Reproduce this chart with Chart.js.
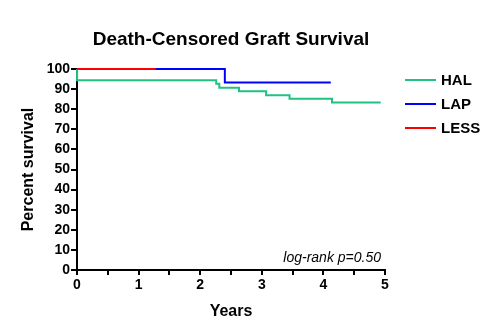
<!DOCTYPE html>
<html>
<head>
<meta charset="utf-8">
<script src="https://cdn.jsdelivr.net/npm/chart.js@4"></script>
<style>
  html, body { margin: 0; padding: 0; background: #fff; }
  #wrap { width: 500px; height: 336px; position: relative; }
</style>
</head>
<body>
<div id="wrap"><canvas id="km"></canvas></div>
<script>
// ── Kaplan-Meier data ───────────────────────────────────────────
const halTimes = [0, 0.001, 2.26, 2.31, 2.63, 3.07, 3.45, 4.14, 4.93];
const halSurv = [100, 94.4, 92.6, 90.7, 88.9, 87.0, 85.2, 83.3, 83.3];
const lapTimes = [0, 2.40, 4.12];
const lapSurv = [100, 93.3, 93.3];
const lessTimes = [0, 1.28];
const lessSurv = [100, 100];

const seriesNames = ["HAL", "LAP", "LESS"];
const seriesColors = ["#1fc283", "#0000ff", "#ff0000"];
const yTicks = [0, 10, 20, 30, 40, 50, 60, 70, 80, 90, 100];
const xTicks = [0, 1, 2, 3, 4, 5];

const FONT = "'Liberation Sans', Arial, sans-serif";
const pts = (t, s) => t.map((x, i) => ({ x, y: s[i] }));

// title, axis titles, legend, annotation
const decor = {
  id: "decor",
  afterDraw(chart) {
    const { ctx, chartArea: a } = chart;
    ctx.save();
    ctx.fillStyle = "#000";
    ctx.textAlign = "center";
    ctx.textBaseline = "alphabetic";
    ctx.font = "bold 19px " + FONT;
    ctx.fillText("Death-Censored Graft Survival", (a.left + a.right) / 2, 45);

    ctx.font = "bold 16px " + FONT;
    ctx.fillText("Years", (a.left + a.right) / 2, 316);
    ctx.save();
    ctx.translate(33, (a.top + a.bottom) / 2);
    ctx.rotate(-Math.PI / 2);
    ctx.fillText("Percent survival", 0, 0);
    ctx.restore();

    ctx.font = "italic 14px " + FONT;
    ctx.textAlign = "right";
    ctx.fillText("log-rank p=0.50", a.right - 4, 262);

    // legend
    ctx.textAlign = "left";
    ctx.textBaseline = "middle";
    ctx.font = "bold 15px " + FONT;
    seriesNames.forEach((n, i) => {
      const y = 80 + i * 24;
      ctx.strokeStyle = seriesColors[i];
      ctx.lineWidth = 2;
      ctx.beginPath();
      ctx.moveTo(405, y);
      ctx.lineTo(436, y);
      ctx.stroke();
      ctx.fillText(n, 441, y + 1);
    });
    ctx.restore();
  },
};

// lower order is drawn on top: LESS over LAP over HAL
const ds = (i, data) => ({
  label: seriesNames[i],
  data,
  order: 2 - i,
  borderColor: seriesColors[i],
  borderWidth: 2,
  pointRadius: 0,
  stepped: "before",
  fill: false,
  clip: false,
});

new Chart(document.getElementById("km"), {
  type: "line",
  data: {
    datasets: [
      ds(0, pts(halTimes, halSurv)),
      ds(1, pts(lapTimes, lapSurv)),
      ds(2, pts(lessTimes, lessSurv)),
    ],
  },
  options: {
    responsive: true,
    maintainAspectRatio: false,
    animation: false,
    layout: { padding: { left: 0, right: 115, top: 69, bottom: 0 } },
    plugins: { legend: { display: false }, tooltip: { enabled: false } },
    scales: {
      x: {
        type: "linear",
        min: 0,
        max: 5,
        afterFit: (s) => { s.height = 66; },
        afterBuildTicks: (s) => {
          const t = [];
          for (let v = 0; v <= 10; v++) t.push({ value: v / 2 });
          s.ticks = t;
        },
        ticks: {
          autoSkip: false,
          maxRotation: 0,
          color: "#000",
          font: { family: FONT, size: 14, weight: "bold" },
          padding: 2,
          callback: (v) => (xTicks.includes(v) ? String(v) : ""),
        },
        grid: {
          drawOnChartArea: false,
          drawTicks: true,
          tickLength: 5,
          color: "#000",
          lineWidth: 2,
        },
        border: { color: "#000", width: 2 },
      },
      y: {
        min: 0,
        max: 100,
        afterFit: (s) => { s.width = 77; },
        afterBuildTicks: (s) => { s.ticks = yTicks.map((v) => ({ value: v })); },
        ticks: {
          color: "#000",
          font: { family: FONT, size: 14, weight: "bold" },
          padding: 1,
        },
        grid: {
          drawOnChartArea: false,
          drawTicks: true,
          tickLength: 6,
          color: "#000",
          lineWidth: 2,
        },
        border: { color: "#000", width: 2 },
      },
    },
  },
  plugins: [decor],
});
</script>
</body>
</html>
